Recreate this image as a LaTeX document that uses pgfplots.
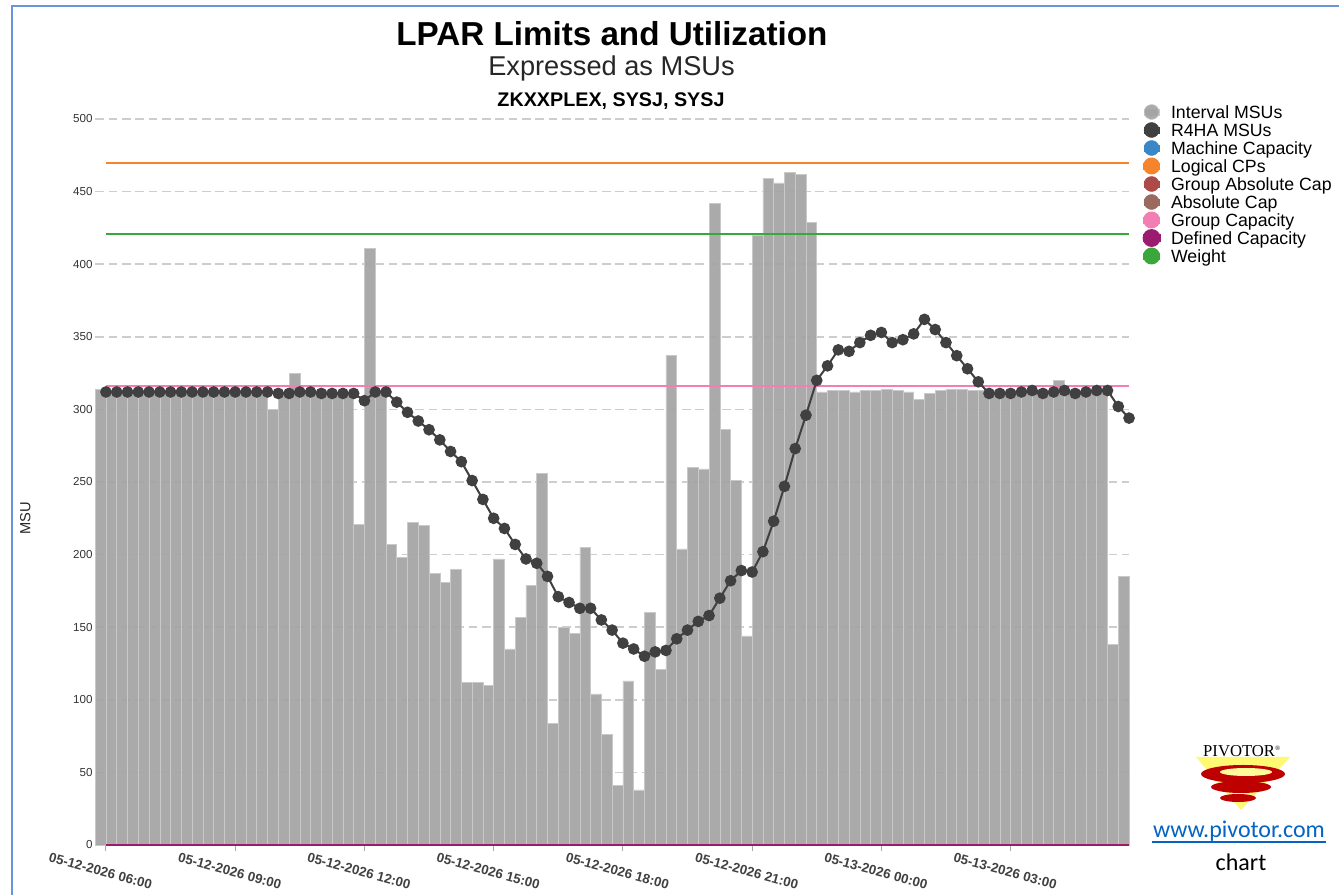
\documentclass[border=0pt]{standalone}
\usepackage{fontspec}
\setmainfont{Liberation Sans}
\newfontfamily\carlito{Carlito}
\newfontfamily\logofont{Liberation Serif}
\usepackage{pgfplots}
\pgfplotsset{compat=1.18}
\usepackage{pgfplotstable}

\definecolor{barfill}{HTML}{A3A3A3}
\definecolor{barline}{HTML}{C9C9C9}
\definecolor{r4hacol}{HTML}{404040}
\definecolor{mcblue}{HTML}{3A87C7}
\definecolor{lcporange}{HTML}{F5842C}
\definecolor{gacap}{HTML}{AD4A47}
\definecolor{acap}{HTML}{9A6A5E}
\definecolor{gcpink}{HTML}{F37EB4}
\definecolor{dcpurple}{HTML}{9B1B6E}
\definecolor{wgreen}{HTML}{3BA63B}
\definecolor{gridgray}{HTML}{CDCDCD}
\definecolor{frameblue}{HTML}{6A95DC}
\definecolor{linkblue}{HTML}{0563C1}

\pgfplotsset{
  circlegend/.style={legend image code/.code={%
    \path (0pt,-1pt) rectangle (11.2pt,3pt);
    \fill[overlay] (5.6pt,1.2pt) circle[radius=5.6pt];}},
}

% Interval MSUs: each bar spans [start, start+1]
\pgfplotstableread{
start msu
-1 314
0 313
1 313
2 313
3 313
4 313
5 313
6 313
7 313
8 313
9 313
10 313
11 313
12 313
13 313
14 313
15 300
16 312
17 325
18 313
19 311
20 313
21 312
22 312
23 221
24 411
25 313
26 207
27 198
28 222
29 220
30 187
31 181
32 190
33 112
34 112
35 110
36 197
37 135
38 157
39 179
40 256
41 84
42 150
43 146
44 205
45 104
46 76
47 41
48 113
49 38
50 160
51 121
52 337
53 204
54 260
55 259
56 442
57 286
58 251
59 144
60 420
61 459
62 456
63 463
64 462
65 429
66 312
67 313
68 313
69 312
70 313
71 313
72 314
73 313
74 312
75 307
76 311
77 313
78 314
79 314
80 313
81 313
82 313
83 313
84 313
85 314
86 313
87 313
88 320
89 313
90 313
91 313
92 313
93 138
94 185
95 185
}\barsdata

% R4HA MSUs
\pgfplotstableread{
idx r4ha
0 312
1 312
2 312
3 312
4 312
5 312
6 312
7 312
8 312
9 312
10 312
11 312
12 312
13 312
14 312
15 312
16 311
17 311
18 312
19 312
20 311
21 311
22 311
23 311
24 306
25 312
26 312
27 305
28 298
29 292
30 286
31 279
32 271
33 264
34 251
35 238
36 225
37 218
38 207
39 197
40 194
41 185
42 171
43 167
44 163
45 163
46 155
47 148
48 139
49 135
50 130
51 133
52 134
53 142
54 148
55 154
56 158
57 170
58 182
59 189
60 188
61 202
62 223
63 247
64 273
65 296
66 320
67 330
68 341
69 340
70 346
71 351
72 353
73 346
74 348
75 352
76 362
77 355
78 346
79 337
80 328
81 319
82 311
83 311
84 311
85 312
86 313
87 311
88 312
89 313
90 311
91 312
92 313
93 313
94 302
95 294
}\rfourha

\begin{document}
\begin{tikzpicture}
\useasboundingbox (0,0) rectangle (1004.25pt,671.25pt);
\begin{axis}[
  at={(71.4pt,37.5pt)}, anchor=south west,
  scale only axis, width=775.4pt, height=544.5pt,
  xmin=-1, xmax=95, ymin=0, ymax=500,
  clip=false,
  axis lines*=left, axis line style={draw=none},
  ytick={0,50,...,500},
  xtick={0,12,...,84},
  xticklabels={05-12-2026 06:00,05-12-2026 09:00,05-12-2026 12:00,05-12-2026 15:00,05-12-2026 18:00,05-12-2026 21:00,05-13-2026 00:00,05-13-2026 03:00},
  tick align=outside, major tick length=4.5pt,
  xtick style={draw=black!35, line width=0.75pt},
  ytick style={draw=none},
  ymajorgrids,
  major grid style={draw=gridgray, line width=1.1pt, dash pattern=on 6.5pt off 3.5pt},
  /pgf/number format/assume math mode=true,
  yticklabel style={font=\fontsize{8.7}{10}\selectfont, text=black!80, xshift=6pt},
  xticklabel style={font=\bfseries\fontsize{10}{12}\selectfont, text=black!75, rotate=-15, anchor=north, yshift=-8.5pt},
  ylabel={MSU},
  ylabel style={at={(axis description cs:-0.0677,0.45)}, anchor=center, font=\fontsize{11}{13}\selectfont, text=black!85},
  legend cell align=left,
  legend style={
    at={(axis description cs:1,1)}, anchor=north west,
    xshift=10pt, yshift=11pt,
    draw=none, fill=none, inner sep=0pt,
    font=\fontsize{13.3}{13.3}\selectfont,
    row sep=0pt, column sep=7.9pt,
    nodes={inner sep=0pt, text height=10.6pt, text depth=2.9pt},
  },
]
\addplot[ybar interval, fill=barfill, fill opacity=0.92, draw=barline, line width=0.4pt, circlegend] table[x=start, y=msu] {\barsdata};
\addlegendentry{Interval MSUs}
\addlegendimage{circlegend, color=r4hacol}
\addlegendentry{R4HA MSUs}
\addlegendimage{circlegend, color=mcblue}
\addlegendentry{Machine Capacity}
\addplot[color=lcporange, line width=1.5pt, circlegend] coordinates {(0,470) (95,470)};
\addlegendentry{Logical CPs}
\addlegendimage{circlegend, color=gacap}
\addlegendentry{Group Absolute Cap}
\addlegendimage{circlegend, color=acap}
\addlegendentry{Absolute Cap}
\addplot[color=gcpink, line width=1.5pt, circlegend] coordinates {(0,316) (95,316)};
\addlegendentry{Group Capacity}
\addplot[color=dcpurple, line width=2.2pt, circlegend] coordinates {(0,0) (95,0)};
\addlegendentry{Defined Capacity}
\addplot[color=wgreen, line width=1.5pt, circlegend] coordinates {(0,421) (95,421)};
\addlegendentry{Weight}
\addplot[color=r4hacol, line width=1.5pt, mark=*, mark size=3.6pt, mark options={fill=r4hacol, draw=r4hacol}, forget plot] table[x=idx, y=r4ha] {\rfourha};
\end{axis}

\begin{scope}[x=0.75pt, y=0.75pt]
  \draw[frameblue, line width=1pt] (12,0) -- (12,{895-6}) -- (1339,{895-6});
  \node[anchor=base, font=\bfseries\fontsize{24.9}{28}\selectfont] at (611.9,{895-45.5}) {LPAR Limits and Utilization};
  \node[anchor=base, font=\fontsize{20.4}{24}\selectfont, text=black!85] at (611.5,{895-75.5}) {Expressed as MSUs};
  \node[anchor=base, font=\bfseries\fontsize{14.8}{17}\selectfont] at (611,{895-107}) {ZKXXPLEX, SYSJ, SYSJ};
  % logo
  \fill[yellow!55!white] (1196,{895-757}) -- (1290,{895-757}) -- (1241,{895-810}) -- cycle;
  \fill[red!75!black] (1243,{895-774}) ellipse [x radius=42, y radius=9];
  \fill[yellow!40!white] (1246,{895-772}) ellipse [x radius=26, y radius=4];
  \fill[red!75!black] (1241,{895-787}) ellipse [x radius=30, y radius=6];
  \fill[red!75!black] (1238,{895-798}) ellipse [x radius=18, y radius=4];
  \node[font=\logofont\fontsize{12.5}{13}\selectfont] at (1242,{895-751}) {PIVOTOR\textsuperscript{\tiny\textregistered}};
  \node[font=\carlito\fontsize{18}{20}\selectfont, text=linkblue] at (1239,{895-831}) {www.pivotor.com};
  \draw[linkblue, line width=1pt] (1152,{895-842}) -- (1326,{895-842});
  \node[font=\carlito\fontsize{18}{20}\selectfont] at (1241,{895-862}) {chart};
\end{scope}
\end{tikzpicture}
\end{document}
